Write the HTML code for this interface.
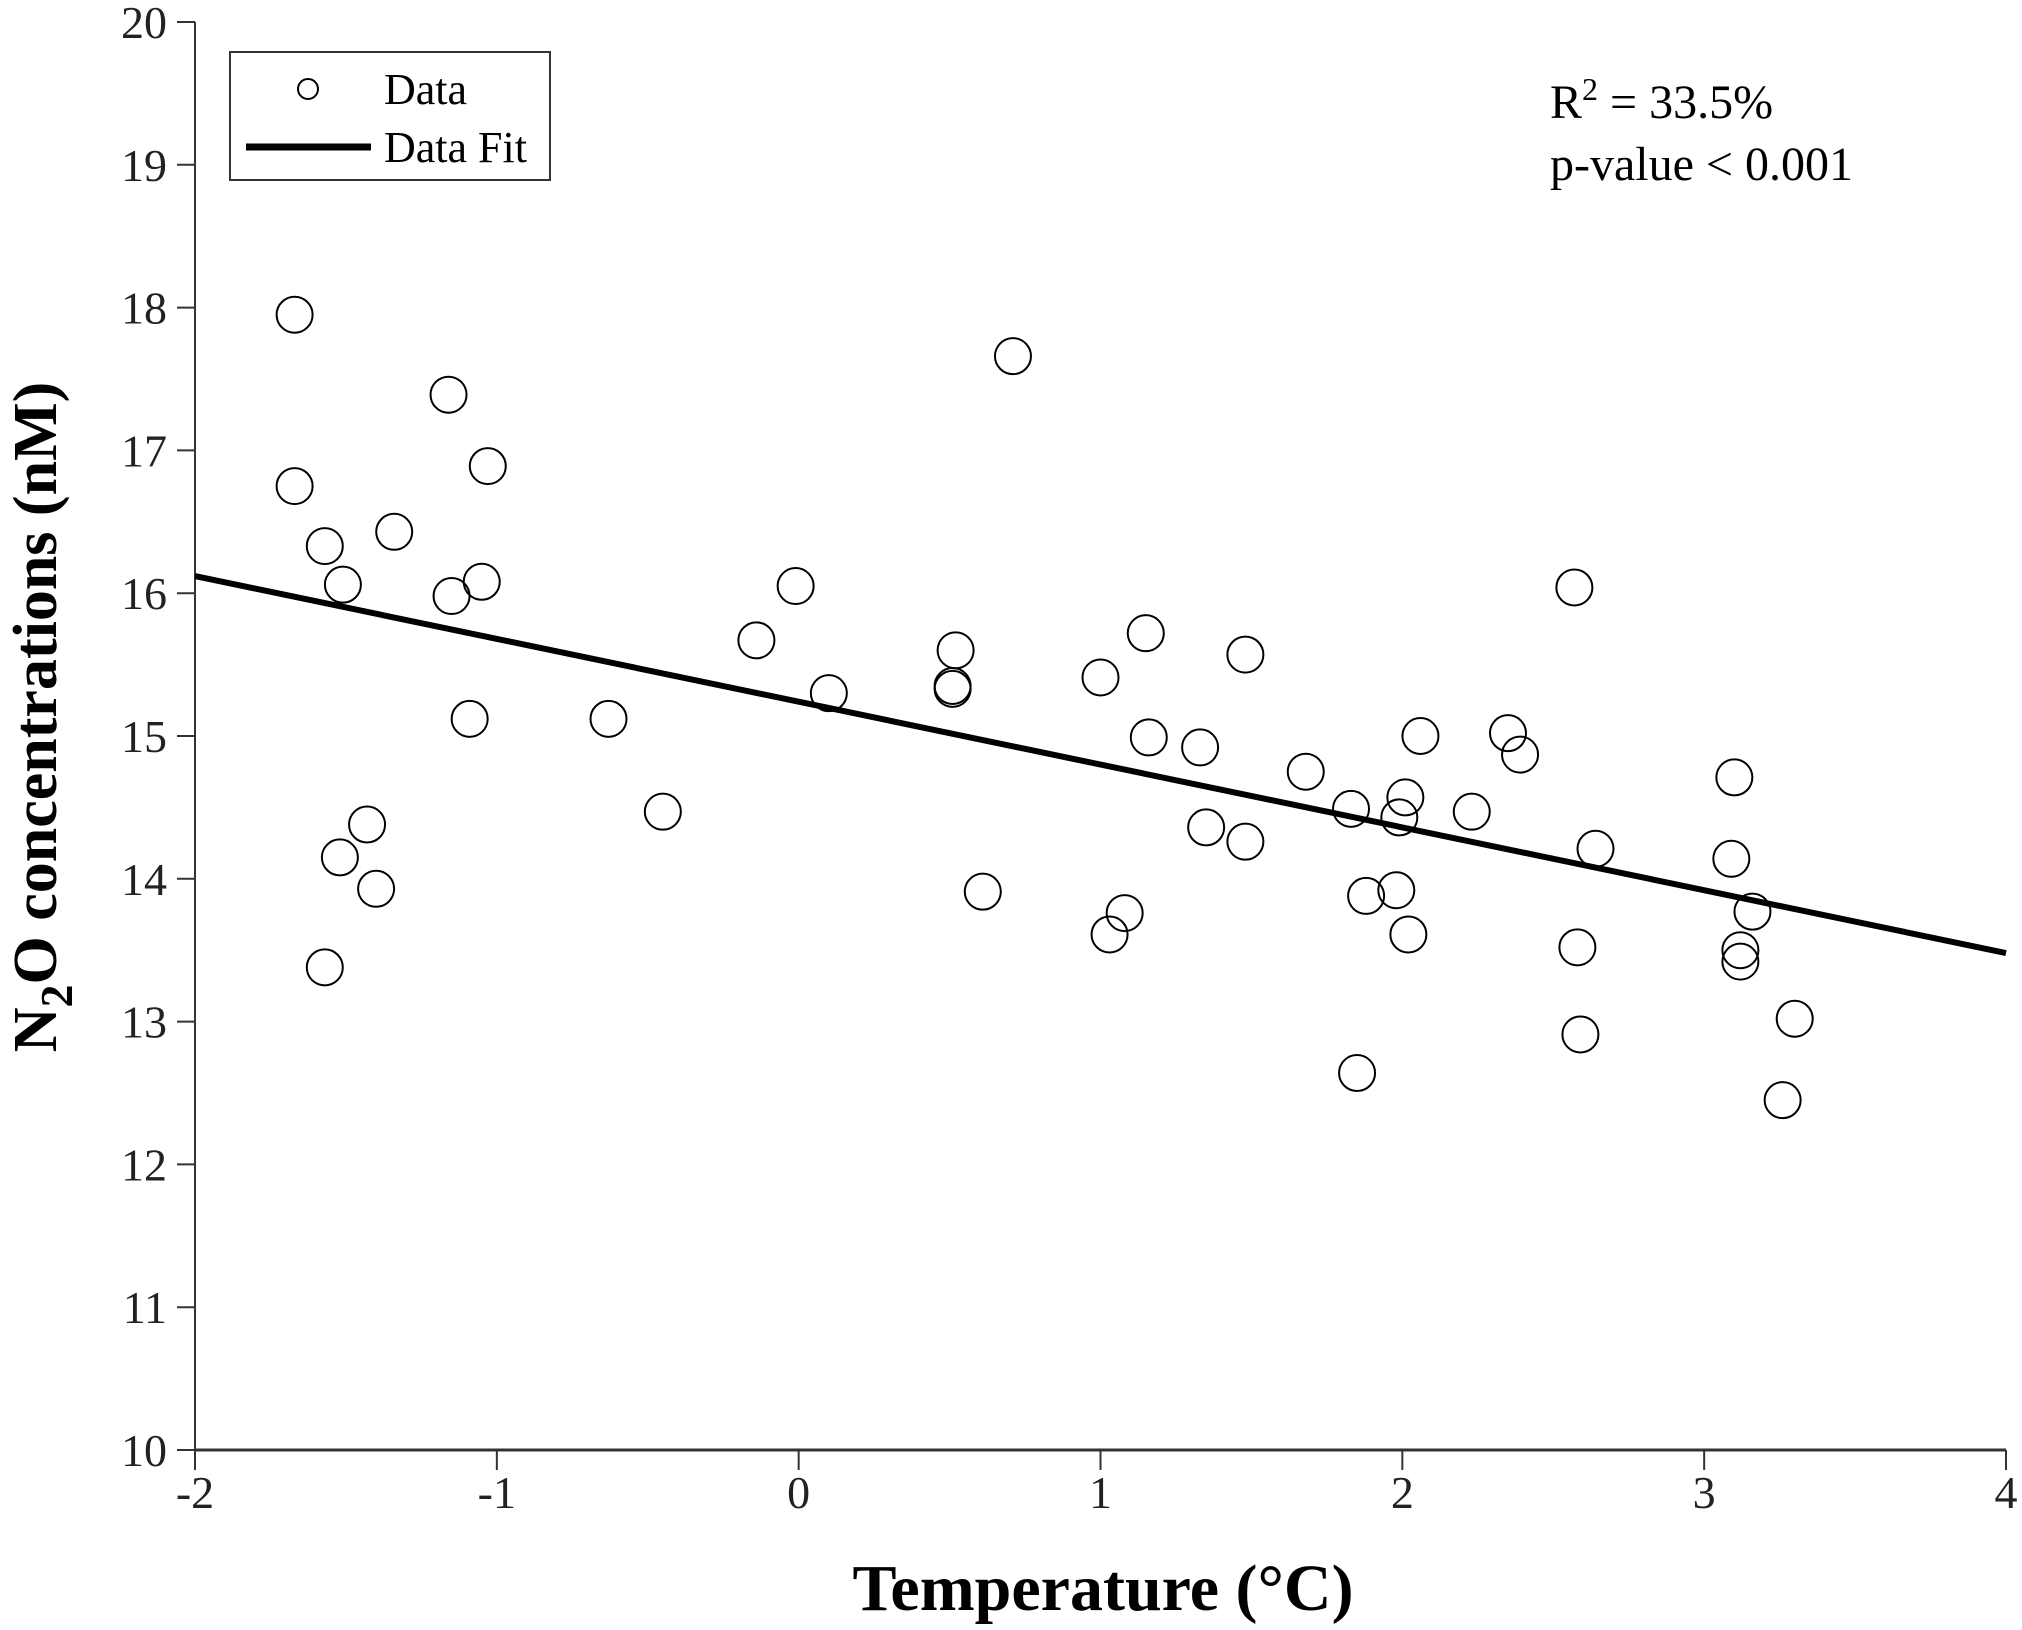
<!DOCTYPE html>
<html><head><meta charset="utf-8"><style>
html,body{margin:0;padding:0;background:#fff;}
svg{display:block;font-family:"Liberation Serif","Times New Roman",serif;}
</style></head><body>
<svg id="chart" width="2022" height="1630" viewBox="0 0 2022 1630" xmlns="http://www.w3.org/2000/svg">
<g id="axes"></g>
<g id="marks"></g>
<g id="legend">
  <rect x="230" y="52" width="320" height="128" fill="#fff" stroke="#333" stroke-width="2"/>
  <circle cx="308" cy="89" r="10" fill="none" stroke="#000" stroke-width="2"/>
  <text x="384" y="104" font-size="44">Data</text>
  <line x1="246" y1="147" x2="371" y2="147" stroke="#000" stroke-width="7"/>
  <text x="384" y="162" font-size="44">Data Fit</text>
</g>
<text x="1550" y="118" font-size="48">R<tspan dy="-18" font-size="32">2</tspan><tspan dy="18"> = 33.5%</tspan></text>
<text x="1550" y="180" font-size="48">p-value &lt; 0.001</text>
<text x="1103" y="1610" font-size="66" font-weight="bold" text-anchor="middle">Temperature (°C)</text>
<text transform="translate(56,717) rotate(-90)" font-size="62" font-weight="bold" text-anchor="middle">N<tspan dy="16" font-size="46">2</tspan><tspan dy="-16">O concentrations (nM)</tspan></text>
</svg>
<script>
const xs = [-1.67,-1.67,-1.57,-1.51,-1.34,-1.16,-1.15,-1.03,-1.05,-1.09,-1.52,-1.43,-1.40,-1.57,-0.63,-0.45,-0.14,-0.01,0.10,0.52,0.51,0.51,0.71,0.61,1.00,1.15,1.16,1.08,1.03,1.33,1.35,1.48,1.48,1.68,1.83,1.85,1.88,1.98,2.01,1.99,2.02,2.06,2.23,2.35,2.39,2.57,2.64,2.58,2.59,3.10,3.09,3.16,3.12,3.12,3.30,3.26];
const ys = [17.95,16.75,16.33,16.06,16.43,17.39,15.98,16.89,16.08,15.12,14.15,14.38,13.93,13.38,15.12,14.47,15.67,16.05,15.30,15.60,15.35,15.33,17.66,13.91,15.41,15.72,14.99,13.76,13.61,14.92,14.36,15.57,14.26,14.75,14.49,12.64,13.88,13.92,14.57,14.43,13.61,15.00,14.47,15.02,14.87,16.04,14.21,13.52,12.91,14.71,14.14,13.77,13.50,13.42,13.02,12.45];
const fitX = [-2, 4];
const fitY = [16.12, 13.48];
const xTicks = [-2,-1,0,1,2,3,4];
const yTicks = [10,11,12,13,14,15,16,17,18,19,20];

const NS = "http://www.w3.org/2000/svg";
const X0=195, X1=2006, Y0=1450, Y1=22;
function sx(v){return X0+(v-(-2))/6*(X1-X0);}
function sy(v){return Y0-(v-10)/10*(Y0-Y1);}
function mk(tag, attrs, parent){const e=document.createElementNS(NS,tag);for(const k in attrs)e.setAttribute(k,attrs[k]);parent.appendChild(e);return e;}
const axes=document.getElementById('axes');
let e;
e=mk('line',{x1:X0,y1:Y1,x2:X0,y2:Y0,stroke:'#333','stroke-width':2},axes);


e=mk('line',{x1:X0,y1:Y0,x2:X1,y2:Y0,stroke:'#333','stroke-width':3},axes);


xTicks.forEach(t=>{
  const l=mk('line',{x1:sx(t),y1:Y0,x2:sx(t),y2:Y0+20,stroke:'#333','stroke-width':2},axes);
  
  
  const tx=mk('text',{x:sx(t),y:Y0+58,'font-size':46,'text-anchor':'middle',fill:'#222'},axes);
  tx.textContent=String(t);
  
  
});
yTicks.forEach(t=>{
  const l=mk('line',{x1:X0-18,y1:sy(t),x2:X0,y2:sy(t),stroke:'#333','stroke-width':2},axes);
  
  
  const tx=mk('text',{x:X0-28,y:sy(t)+16,'font-size':46,'text-anchor':'end',fill:'#222'},axes);
  tx.textContent=String(t);
  
  
});
const marks=document.getElementById('marks');
xs.forEach((v,i)=>{
  const c=mk('circle',{cx:sx(v),cy:sy(ys[i]),r:18,fill:'none',stroke:'#000','stroke-width':2},marks);
  
  
});
const fl=mk('line',{x1:sx(fitX[0]),y1:sy(fitY[0]),x2:sx(fitX[1]),y2:sy(fitY[1]),stroke:'#000','stroke-width':6},marks);


</script>
</body></html>
